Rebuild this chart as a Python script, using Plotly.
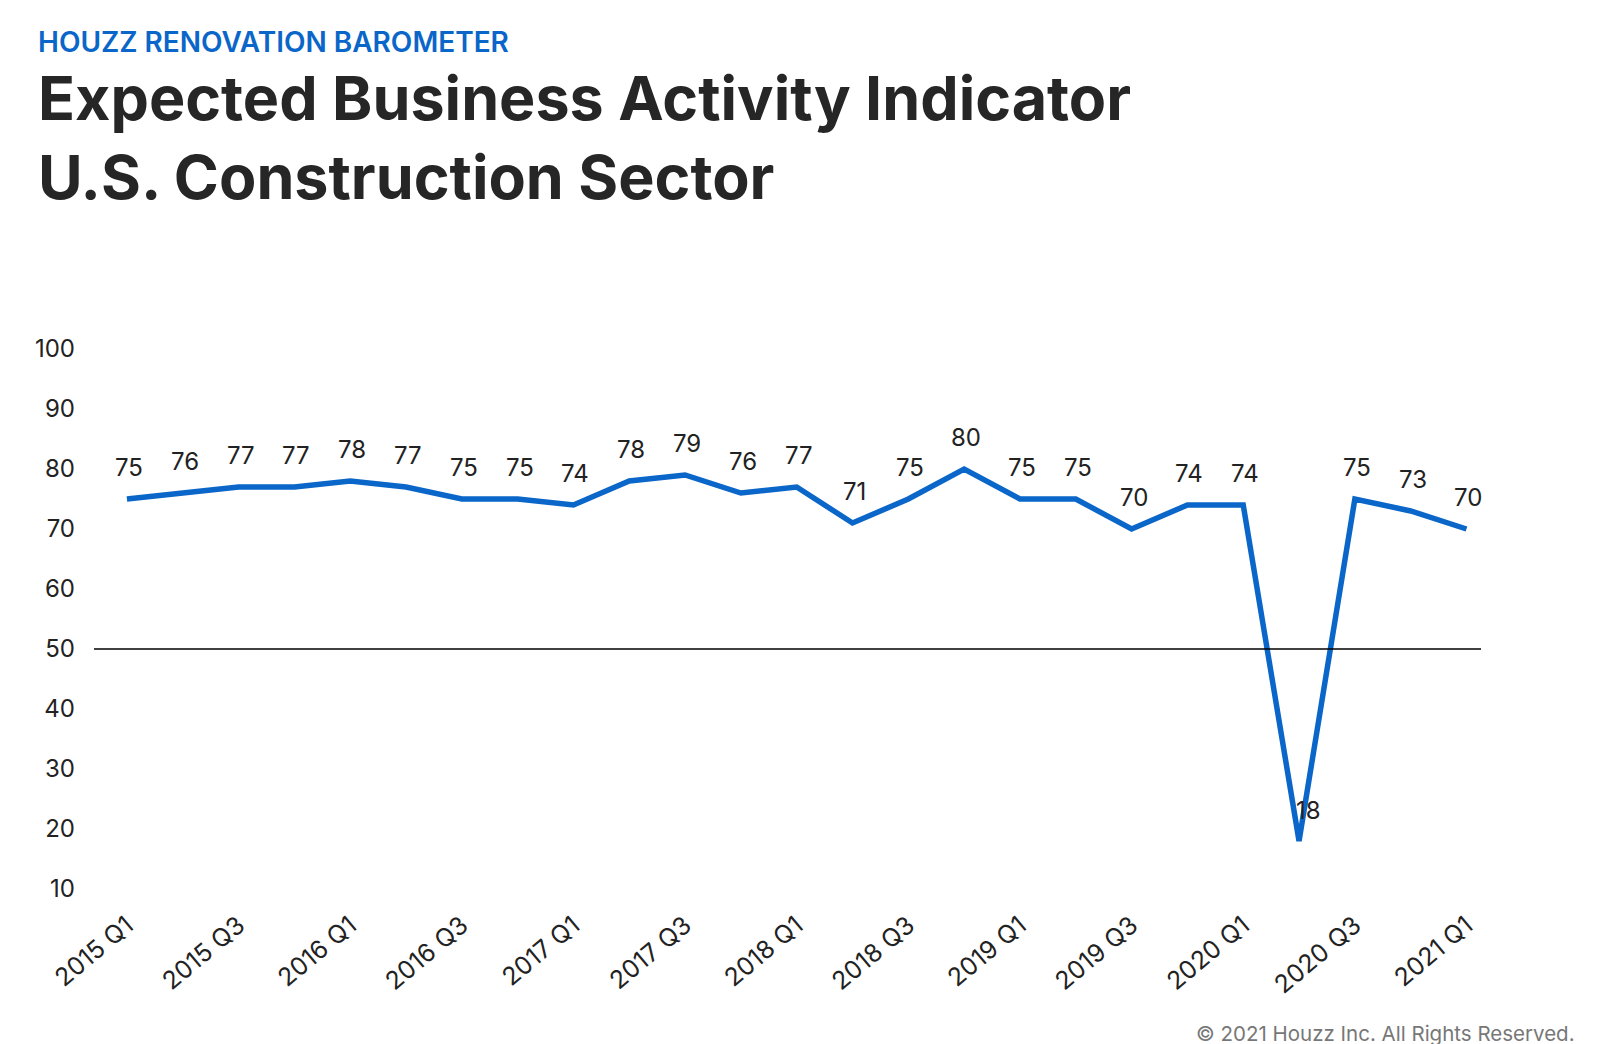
import plotly.graph_objects as go

# Houzz Renovation Barometer - expected business activity, construction sector
quarters = ["2015 Q1", "2015 Q2", "2015 Q3", "2015 Q4",
            "2016 Q1", "2016 Q2", "2016 Q3", "2016 Q4",
            "2017 Q1", "2017 Q2", "2017 Q3", "2017 Q4",
            "2018 Q1", "2018 Q2", "2018 Q3", "2018 Q4",
            "2019 Q1", "2019 Q2", "2019 Q3", "2019 Q4",
            "2020 Q1", "2020 Q2", "2020 Q3", "2020 Q4",
            "2021 Q1"]
indicator = [75, 76, 77, 77, 78, 77, 75, 75, 74, 78, 79, 76, 77,
             71, 75, 80, 75, 75, 70, 74, 74, 18, 75, 73, 70]
tick_labels = quarters[::2]
y_ticks = [10, 20, 30, 40, 50, 60, 70, 80, 90, 100]
baseline = 50

blue = "#0a66c8"
font = "Inter"

x_pos = list(range(len(quarters)))

fig = go.Figure()
fig.add_trace(go.Scatter(x=x_pos, y=indicator, mode="lines",
                         line=dict(color=blue, width=5.5), hoverinfo="skip"))

# value labels above each point (the dip label sits just right of the line)
for i, v in enumerate(indicator):
    if v < 30:
        fig.add_annotation(x=i, y=v, text=str(v), showarrow=False,
                           xanchor="left", xshift=-5, yshift=31,
                           font=dict(family=font, size=24, color="#222222"))
    else:
        fig.add_annotation(x=i, y=v, text=str(v), showarrow=False,
                           xshift=2, yshift=32,
                           font=dict(family=font, size=24, color="#222222"))

fig.add_shape(type="line", xref="paper", x0=0, x1=1, y0=baseline, y1=baseline,
              line=dict(color="black", width=1.5))

# header and footer
fig.add_annotation(xref="paper", yref="paper", x=-0.0418, y=1.569,
                   xanchor="left", yanchor="middle", showarrow=False,
                   text="HOUZZ RENOVATION BAROMETER",
                   font=dict(family=font, size=28, weight=600, color=blue))
fig.add_annotation(xref="paper", yref="paper", x=-0.0418, y=1.391,
                   xanchor="left", yanchor="middle", showarrow=False, align="left",
                   text="<b>Expected Business Activity Indicator<br>U.S. Construction Sector</b>",
                   font=dict(family=font, size=61, color="#262626"))
fig.add_annotation(xref="paper", yref="paper", x=1.069, y=-0.267,
                   xanchor="right", yanchor="middle", showarrow=False,
                   text="© 2021 Houzz Inc. All Rights Reserved.",
                   font=dict(family=font, size=20.5, color="#777777"))

fig.update_layout(
    width=1606, height=1044,
    margin=dict(l=86, r=133, t=341, b=163),
    paper_bgcolor="white", plot_bgcolor="white",
    showlegend=False,
    font=dict(family=font, color="#222222"),
    xaxis=dict(range=[-0.59, 24.26], tickmode="array",
               tickvals=x_pos[::2], ticktext=tick_labels, tickangle=-40,
               ticklabelstandoff=16,
               showgrid=False, zeroline=False, showline=False,
               tickfont=dict(size=25, color="#222222")),
    yaxis=dict(range=[10, 100], tickmode="array", tickvals=y_ticks,
               showgrid=False, zeroline=False, showline=False,
               ticklabelstandoff=18,
               tickfont=dict(size=24, color="#222222")),
)

fig.write_html("out.html")
